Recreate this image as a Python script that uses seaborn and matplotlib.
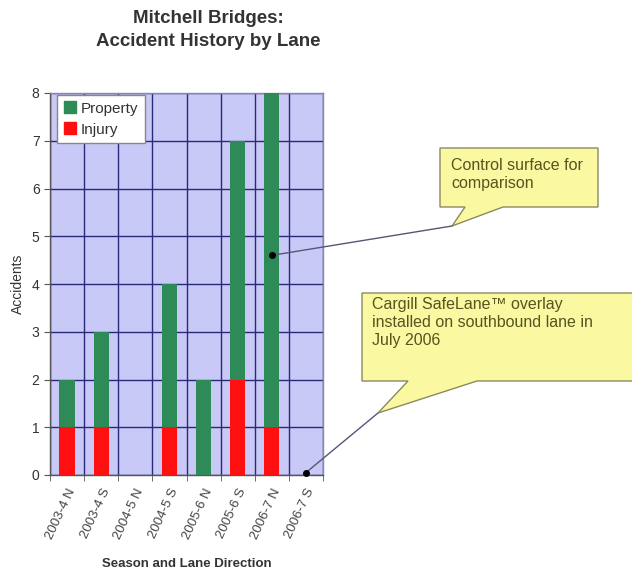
import matplotlib
matplotlib.use("Agg")
import matplotlib.pyplot as plt
import seaborn as sns
import pandas as pd
from matplotlib.patches import Polygon, Patch

# data
seasons = ["2003-4 N", "2003-4 S", "2004-5 N", "2004-5 S",
           "2005-6 N", "2005-6 S", "2006-7 N", "2006-7 S"]
injury = [1, 1, 0, 1, 0, 2, 1, 0]
property_dmg = [1, 2, 0, 3, 2, 5, 7, 0]
yticks = [0, 1, 2, 3, 4, 5, 6, 7, 8]

df = pd.DataFrame({"season": seasons, "Injury": injury, "Property": property_dmg})
df["total"] = df["Injury"] + df["Property"]

sns.set_style("white")
plt.rcParams["font.family"] = ["Liberation Sans", "DejaVu Sans"]

green = "#2e8b57"
red = "#ff1010"

fig = plt.figure(figsize=(6.32, 5.71), dpi=100)
W, H = 632, 571
# plot area in pixels: left 50, right 323, top 93, bottom 475
ax = fig.add_axes([50 / W, 1 - 475 / H, (323 - 50) / W, (475 - 93) / H])
ax.set_facecolor("#c9c9f7")

sns.barplot(data=df, x="season", y="total", color=green, width=0.45,
            saturation=1, linewidth=0, ax=ax, zorder=3)
sns.barplot(data=df, x="season", y="Injury", color=red, width=0.45,
            saturation=1, linewidth=0, ax=ax, zorder=4)

ax.set_ylim(0, 8)
ax.set_xlim(-0.5, len(seasons) - 0.5)
ax.set_yticks(yticks)
for y in yticks:
    ax.axhline(y, color="#2a2a7a", lw=1, zorder=1)
for i in range(len(seasons) + 1):
    ax.axvline(i - 0.5, color="#2a2a7a", lw=1, zorder=1)

ax.set_xticks(range(len(seasons)))
ax.set_xticklabels(seasons, rotation=65, ha="right", rotation_mode="anchor",
                   fontsize=9.5, color="#444444")
ax.tick_params(axis="y", labelsize=10, labelcolor="#333333", length=4,
               direction="out", left=True, color="#555555")
ax.set_xticks([i - 0.5 for i in range(len(seasons) + 1)], minor=True)
ax.tick_params(axis="x", which="major", bottom=False, pad=5)
ax.tick_params(axis="x", which="minor", length=4, bottom=True, color="#555555")
for s in ax.spines.values():
    s.set_color("#8888aa")
    s.set_linewidth(1)
ax.spines["left"].set_color("#555555")
ax.spines["bottom"].set_color("#555555")

ax.set_ylabel("Accidents", fontsize=10, color="#333333", labelpad=5)
ax.set_xlabel("Season and Lane Direction", fontsize=9.5, fontweight="bold",
              color="#333333", labelpad=12)

leg = ax.legend(handles=[Patch(color=green, label="Property"),
                         Patch(color=red, label="Injury")],
                loc="upper left", bbox_to_anchor=(0.02, 1.0), fontsize=11,
                frameon=True, fancybox=False, edgecolor="#888888",
                handlelength=0.8, handleheight=0.8, handletextpad=0.3,
                borderpad=0.45, labelspacing=0.45, borderaxespad=0.1,
                labelcolor="#333333")
leg.get_frame().set_facecolor("white")
leg.get_frame().set_alpha(1)
leg.set_zorder(10)

fig.text(208 / W, 1 - 30 / H, "Mitchell Bridges:\nAccident History by Lane",
         ha="center", va="center", fontsize=13.5, fontweight="bold",
         color="#333333", linespacing=1.4)

# overlay for callouts, pixel coordinates
ov = fig.add_axes([0, 0, 1, 1], zorder=20)
ov.set_xlim(0, W)
ov.set_ylim(H, 0)
ov.axis("off")
ov.patch.set_alpha(0)

def data_to_px(x, y):
    px, py = ax.transData.transform((x, y))
    return px, H - py

fill = "#fbf8a2"
edge = "#8a8a60"
txt_color = "#55551f"

# callout 1
d1 = data_to_px(6, 4.6)
tip1 = (452, 226)
box1 = [(440, 148), (598, 148), (598, 207), (503, 207), tip1, (465, 207), (440, 207)]
ov.add_patch(Polygon(box1, closed=True, facecolor=fill, edgecolor=edge, lw=1))
ov.plot([tip1[0], d1[0]], [tip1[1], d1[1]], color="#555577", lw=1)
ov.plot([d1[0]], [d1[1]], "o", color="black", ms=4)
ov.text(451, 158, "Control surface for\ncomparison", ha="left", va="top",
        fontsize=11.5, color=txt_color, linespacing=1.25)

# callout 2
d2 = data_to_px(7, 0.05)
tip2 = (378, 413)
box2 = [(362, 293), (640, 293), (640, 381), (477, 381), tip2, (408, 381), (362, 381)]
ov.add_patch(Polygon(box2, closed=True, facecolor=fill, edgecolor=edge, lw=1))
ov.plot([tip2[0], d2[0]], [tip2[1], d2[1]], color="#555577", lw=1)
ov.plot([d2[0]], [d2[1]], "o", color="black", ms=4)
ov.text(372, 297, "Cargill SafeLane\u2122 overlay\ninstalled on southbound lane in\nJuly 2006",
        ha="left", va="top", fontsize=11.5, color=txt_color, linespacing=1.25)

fig.savefig("out.png", dpi=100)
